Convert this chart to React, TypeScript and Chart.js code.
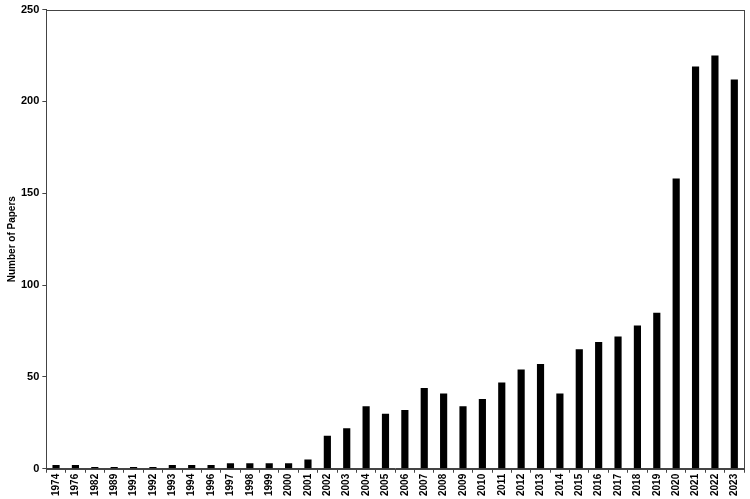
import React, { useEffect, useRef } from "react";
import { Chart, registerables } from "chart.js";

Chart.register(...registerables);

const years = ["1974","1976","1982","1989","1991","1992","1993","1994","1996","1997","1998","1999","2000","2001","2002","2003","2004","2005","2006","2007","2008","2009","2010","2011","2012","2013","2014","2015","2016","2017","2018","2019","2020","2021","2022","2023"];
const papers = [2,2,1,1,1,1,2,2,2,3,3,3,3,5,18,22,34,30,32,44,41,34,38,47,54,57,41,65,69,72,78,85,158,219,225,212];
const yTicks = [0, 50, 100, 150, 200, 250];

const framePlugin = {
  id: "frame",
  afterDraw(chart: any) {
    const { ctx, chartArea } = chart;
    ctx.save();
    ctx.strokeStyle = "#444";
    ctx.lineWidth = 1;
    ctx.strokeRect(Math.round(chartArea.left) + 0.5, Math.round(chartArea.top) + 0.5, Math.round(chartArea.right - chartArea.left), Math.round(chartArea.bottom - chartArea.top));
    ctx.restore();
  },
};

export default function App() {
  const ref = useRef<HTMLCanvasElement>(null);
  useEffect(() => {
    document.body.style.margin = "0";
    const chart = new Chart(ref.current!, {
      type: "bar",
      data: {
        labels: years,
        datasets: [{ data: papers, backgroundColor: "#000", barPercentage: 0.37, categoryPercentage: 1 }],
      },
      options: {
        animation: false,
        responsive: false,
        layout: { padding: { top: 0, right: 6, left: 6, bottom: 2 } },
        plugins: { legend: { display: false }, tooltip: { enabled: false } },
        scales: {
          x: {
            offset: true,
            grid: { display: true, drawOnChartArea: false, drawTicks: true, tickLength: 4, color: "#444", offset: true },
            border: { display: true, color: "#444" },
            ticks: {
              color: "#000",
              minRotation: 90,
              maxRotation: 90,
              autoSkip: false,
              padding: 1,
              font: { family: "Liberation Sans, Arial", size: 10, weight: "bold" },
            },
          },
          y: {
            min: 0,
            max: 250,
            afterBuildTicks: (axis: any) => { axis.ticks = yTicks.map((v) => ({ value: v })); },
            grid: { display: true, drawOnChartArea: false, drawTicks: true, tickLength: 4, color: "#444" },
            border: { display: true, color: "#444" },
            ticks: {
              color: "#000",
              padding: 3,
              font: { family: "Liberation Sans, Arial", size: 11, weight: "bold" },
            },
            title: {
              display: true,
              text: "Number of Papers",
              color: "#000",
              padding: { top: 0, bottom: 0 },
              font: { family: "Liberation Sans, Arial", size: 10, weight: "bold" },
            },
          },
        },
      },
      plugins: [framePlugin],
    });
    return () => chart.destroy();
  }, []);
  return <canvas ref={ref} width={750} height={499} style={{ display: "block" }} />;
}
